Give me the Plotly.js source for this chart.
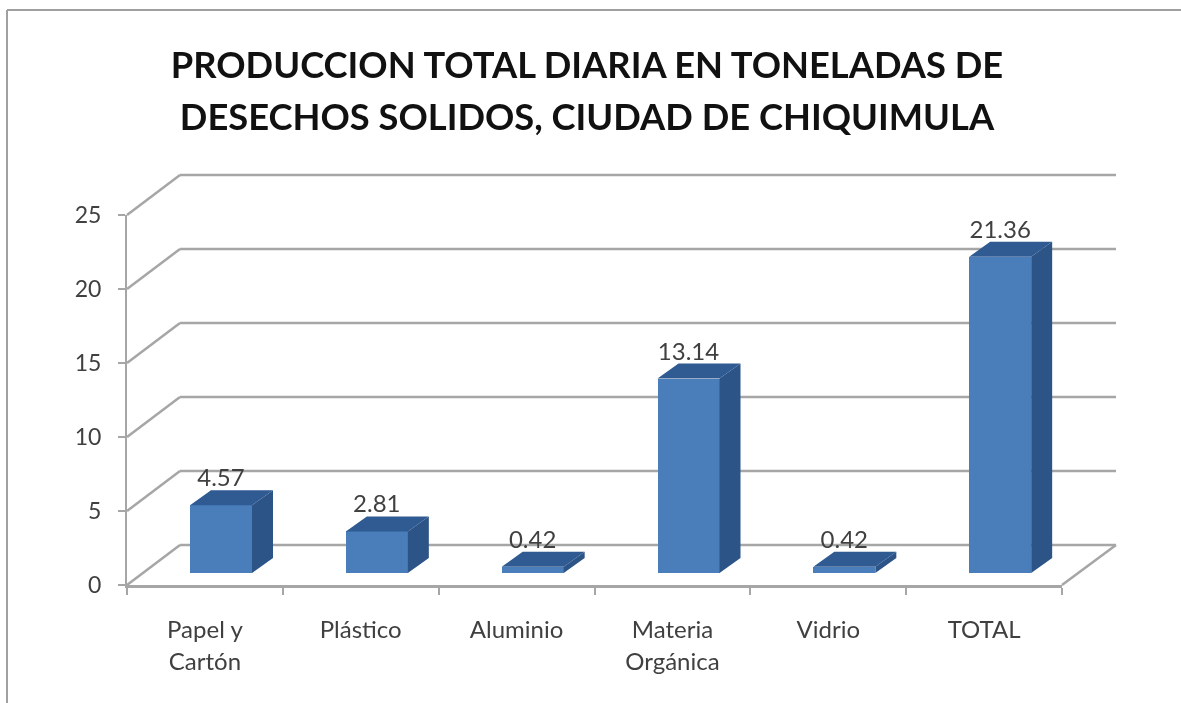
<!DOCTYPE html>
<html>
<head>
<meta charset="utf-8">
<script src="https://cdn.plot.ly/plotly-3.0.1.min.js"></script>
<style>html,body{margin:0;padding:0;background:#fff;overflow:hidden}#chart{filter:blur(0.55px)}</style>
</head>
<body>
<div id="chart" style="width:1181px;height:703px"></div>
<script>
const categories = ["Papel y<br>Cartón", "Plástico", "Aluminio", "Materia<br>Orgánica", "Vidrio", "TOTAL"];
const values = [4.57, 2.81, 0.42, 13.14, 0.42, 21.36];
const valueLabels = ["4.57", "2.81", "0.42", "13.14", "0.42", "21.36"];
const yTicks = [0, 5, 10, 15, 20, 25];
const titleLines = ["PRODUCCION TOTAL DIARIA EN TONELADAS DE", "DESECHOS SOLIDOS, CIUDAD DE CHIQUIMULA"];

// plot frame (front plane of the 3D box) in pixels
const W = 1181, H = 703, L = 127, R = 1062, T = 215, B = 585;
const pxX = (R - L) / categories.length, pxY = (B - T) / 25;
const font = "Lato, 'Open Sans', sans-serif";
const grey = "#a6a6a6", ink = "#404040";

const idx = categories.map((_, i) => i);
const wallDX = 53, wallDY = 40;
const barLeft = 63 / pxX - 0.5, barW = 62 / pxX, barBase = 12 / pxY;
const barDX = 21 / pxX, barDY = 15 / pxY;

const sideX = [], sideY = [], topX = [], topY = [];
values.forEach((v, i) => {
  const l = i + barLeft, r = l + barW, t = barBase + v;
  sideX.push(r, r + barDX, r + barDX, r, r, null);
  sideY.push(barBase, barBase + barDY, t + barDY, t, barBase, null);
  topX.push(l, l + barDX, r + barDX, r, l, null);
  topY.push(t, t + barDY, t + barDY, t, t, null);
});

const traces = [
  {type: "bar", x: idx, y: values, base: barBase, width: barW, offset: barLeft,
   marker: {color: "#4a7ebb", line: {width: 0}}, cliponaxis: false, hoverinfo: "skip"},
  {type: "scatter", mode: "lines", x: sideX, y: sideY, fill: "toself", fillcolor: "#2d5487",
   line: {width: 0, color: "#2d5487"}, cliponaxis: false, hoverinfo: "skip"},
  {type: "scatter", mode: "lines", x: topX, y: topY, fill: "toself", fillcolor: "#2f5a92",
   line: {width: 0, color: "#2f5a92"}, cliponaxis: false, hoverinfo: "skip"},
  {type: "scatter", mode: "text", x: idx.map(i => i + barLeft + barW / 2),
   y: values.map(v => v + barBase + 25 / pxY), text: valueLabels, textposition: "middle center",
   textfont: {family: font, size: 24, color: ink}, cliponaxis: false, hoverinfo: "skip"}
];

// paper-coordinate helpers for the back walls
const px = x => (x - L) / (R - L), py = y => (B - y) / (B - T);
const line = (x0, y0, x1, y1) => ({type: "line", xref: "paper", yref: "paper", layer: "below",
  x0: px(x0), y0: py(y0), x1: px(x1), y1: py(y1), line: {color: grey, width: 2.5}});
const shapes = [];
yTicks.forEach(k => {
  const y = B - k * pxY;
  shapes.push(line(L, y, L + wallDX, y - wallDY));
  shapes.push(line(L + wallDX, y - wallDY, R + wallDX + 1, y - wallDY));
});
shapes.push(line(R, B, R + wallDX + 1, B - wallDY));
// picture frame
shapes.push(Object.assign(line(7, 10, 7, 703), {line: {color: "#a0a0a0", width: 2}}));
shapes.push(Object.assign(line(7, 10, 1181, 10), {line: {color: "#a0a0a0", width: 2}}));

const sized = (text, size) => text.split("<br>").map(t => `<span style="font-size:${size}px">${t}</span>`).join("<br>");

const layout = {
  width: W, height: H, autosize: false, showlegend: false, bargap: 0,
  paper_bgcolor: "#ffffff", plot_bgcolor: "rgba(0,0,0,0)",
  margin: {l: L, r: W - R, t: T, b: H - B, pad: 0},
  title: {text: sized(titleLines.join("<br>"), 36.3),
    font: {family: font, size: 40, color: "#111111", weight: 700},
    x: 581 / W, xanchor: "center", xref: "paper", y: 1 - 77.5 / H, yref: "container", yanchor: "top", pad: {t: 0, b: 0, l: 0, r: 0}},
  xaxis: {type: "linear", range: [-0.5, categories.length - 0.5], tickmode: "array", tickvals: idx,
    ticktext: categories.map(c => sized(c, 24)), tickfont: {family: font, size: 25, color: ink},
    ticks: "", showgrid: false, zeroline: false, showline: true, linecolor: grey, linewidth: 2.5,
    ticklabelstandoff: 20, tickangle: 0, fixedrange: true,
    minor: {tickmode: "array", tickvals: [0, 1, 2, 3, 4, 5, 6].map(v => v - 0.5), ticks: "outside",
      ticklen: 7, tickwidth: 2, tickcolor: grey, showgrid: false}},
  yaxis: {range: [0, 25], tickmode: "array", tickvals: yTicks, ticks: "outside", ticklen: 7, tickwidth: 2, tickcolor: grey,
    tickfont: {family: font, size: 23, color: ink}, showgrid: false, zeroline: false, showline: true,
    linecolor: grey, linewidth: 2, ticklabelstandoff: 12, fixedrange: true},
  shapes
};
Plotly.newPlot("chart", traces, layout, {displayModeBar: false, staticPlot: true});
</script>
</body>
</html>
